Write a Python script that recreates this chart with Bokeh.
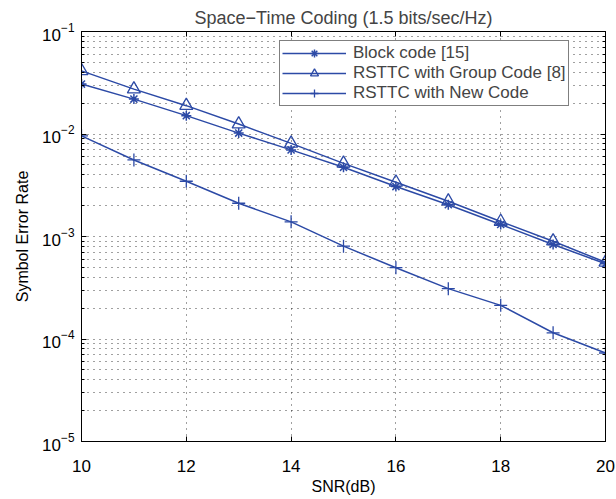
from bokeh.plotting import figure
from bokeh.models import FixedTicker, LogAxis, LinearAxis, Legend, LegendItem
from bokeh.embed import file_html
from bokeh.resources import INLINE

snr = [10, 11, 12, 13, 14, 15, 16, 17, 18, 19, 20]
block_code = [0.0307, 0.0219, 0.0151, 0.0102, 0.0070, 0.00473, 0.00307, 0.00204, 0.00131, 0.000836, 0.000542]
group_code = [0.0413, 0.0274, 0.0189, 0.0125, 0.0081, 0.00517, 0.00338, 0.00221, 0.00140, 0.00090, 0.00056]
new_code = [0.0096, 0.00558, 0.00346, 0.00211, 0.00139, 0.000805, 0.000496, 0.00031, 0.000213, 0.000115, 0.000073]

x_ticks = [10, 12, 14, 16, 18, 20]
y_ticks = [1e-5, 1e-4, 1e-3, 1e-2, 1e-1]
y_minor = [m * 10.0 ** e for e in range(-5, -1) for m in range(2, 10)]

title = "Space\u2212Time Coding (1.5 bits/sec/Hz)"
labels = ["Block code [15]", "RSTTC with Group Code [8]", "RSTTC with New Code"]

FONT = "Liberation Sans"
BLUE = "#2c4aa6"

p = figure(width=616, height=497, y_axis_type="log", x_range=(10, 20), y_range=(1e-5, 1e-1),
           output_backend="svg", toolbar_location=None,
           min_border_left=81, min_border_right=11, min_border_top=31, min_border_bottom=55)
p.outline_line_color = "black"
p.outline_line_width = 1
p.background_fill_color = "white"
p.border_fill_color = "white"

p.title.text = title
p.title.align = "center"
p.title.vertical_align = "top"
p.title.text_font = FONT
p.title.text_font_size = "18px"
p.title.text_font_style = "normal"
p.title.offset = 0
p.title.standoff = 4

# axes
p.xaxis.ticker = FixedTicker(ticks=x_ticks)
p.yaxis.ticker = FixedTicker(ticks=y_ticks, minor_ticks=y_minor)
for ax in (p.xaxis[0], p.yaxis[0]):
    ax.major_tick_in = 5
    ax.major_tick_out = 0
    ax.minor_tick_in = 3
    ax.minor_tick_out = 0
    ax.axis_line_color = "black"
    ax.major_label_text_font = FONT
    ax.major_label_text_font_size = "17px"
    ax.major_label_text_color = "black"
    ax.axis_label_text_font = FONT
    ax.axis_label_text_font_size = "16px"
    ax.axis_label_text_font_style = "normal"
    ax.axis_label_text_color = "black"
p.xaxis.minor_tick_line_color = None
p.xaxis.axis_label = "SNR(dB)"
p.xaxis.major_label_standoff = 18
p.xaxis.axis_label_standoff = 3
p.yaxis.axis_label = "Symbol Error Rate"
p.yaxis.major_label_standoff = 7
p.yaxis.axis_label_standoff = 8

right = LogAxis(ticker=FixedTicker(ticks=y_ticks, minor_ticks=y_minor),
                major_tick_in=5, major_tick_out=0, minor_tick_in=3, minor_tick_out=0,
                major_label_text_color=None, major_label_text_font_size="1px",
                major_label_standoff=0)
p.add_layout(right, "right")
top = LinearAxis(ticker=FixedTicker(ticks=x_ticks), major_tick_in=5, major_tick_out=0,
                 minor_tick_line_color=None, major_label_text_color=None,
                 major_label_text_font_size="1px", major_label_standoff=0)
p.add_layout(top, "above")

# grids
p.xgrid.ticker = FixedTicker(ticks=x_ticks)
p.ygrid.ticker = FixedTicker(ticks=y_ticks, minor_ticks=y_minor)
for g in (p.xgrid[0], p.ygrid[0]):
    g.grid_line_color = "black"
    g.grid_line_dash = "1 5"
    g.grid_line_alpha = 0.75
p.ygrid.minor_grid_line_color = "black"
p.ygrid.minor_grid_line_dash = "1 5"
p.ygrid.minor_grid_line_alpha = 0.75

# series
l1 = p.line(snr, block_code, color=BLUE, line_width=1.5)
m1 = p.scatter(snr, block_code, marker="asterisk", size=10, line_color=BLUE, line_width=1.5)
l2 = p.line(snr, group_code, color=BLUE, line_width=1.5)
m2 = p.scatter(snr, group_code, marker="triangle", size=13, line_color=BLUE, fill_alpha=0, line_width=1.3)
l3 = p.line(snr, new_code, color=BLUE, line_width=1.5)
m3 = p.scatter(snr, new_code, marker="cross", size=13, line_color=BLUE, line_width=1.3)

legend = Legend(items=[LegendItem(label=labels[0], renderers=[l1, m1]),
                       LegendItem(label=labels[1], renderers=[l2, m2]),
                       LegendItem(label=labels[2], renderers=[l3, m3])],
                location=(198, 335))
legend.label_text_font = FONT
legend.label_text_font_size = "17px"
legend.label_height = 20
legend.glyph_height = 20
legend.glyph_width = 64
legend.spacing = 0
legend.padding = 2
legend.margin = 0
legend.border_line_color = "black"
legend.border_line_width = 1
legend.background_fill_alpha = 1
legend.label_standoff = 7
p.add_layout(legend, "center")

open("out.html", "w").write(file_html(p, INLINE))
